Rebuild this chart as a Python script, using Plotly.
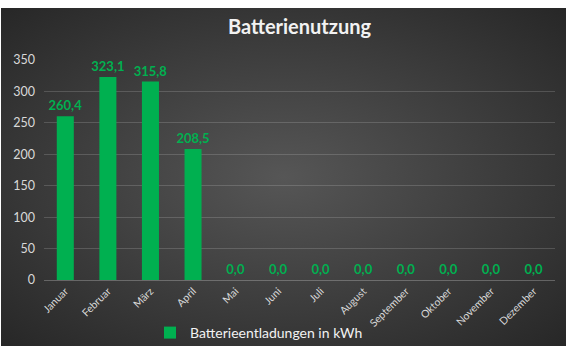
import base64
import plotly.graph_objects as go

months = ["Januar", "Februar", "März", "April", "Mai", "Juni", "Juli",
          "August", "September", "Oktober", "November", "Dezember"]
values = [260.4, 323.1, 315.8, 208.5, 0.0, 0.0, 0.0, 0.0, 0.0, 0.0, 0.0, 0.0]
series_name = "Batterieentladungen in kWh"
title_text = "Batterienutzung"
y_ticks = [0, 50, 100, 150, 200, 250, 300, 350]

labels = [f"{v:.1f}".replace(".", ",") for v in values]

GREEN = "#00B050"
FONT = "Lato"

fig = go.Figure()
fig.add_trace(go.Bar(
    x=months, y=values, name=series_name,
    marker=dict(color=GREEN, line=dict(width=0)),
    text=labels, textposition="outside", cliponaxis=False,
    constraintext="none",
    textfont=dict(family=FONT, size=13, color=GREEN, weight="bold"),
))

svg = ('<svg xmlns="http://www.w3.org/2000/svg" width="565" height="338" '
       'preserveAspectRatio="none" viewBox="0 0 565 338">'
       '<defs><radialGradient id="g" cx="50%" cy="50%" r="72%">'
       '<stop offset="0" stop-color="#565656"/>'
       '<stop offset="1" stop-color="#262626"/>'
       '</radialGradient></defs>'
       '<rect width="565" height="338" fill="url(#g)"/></svg>')
src = "data:image/svg+xml;base64," + base64.b64encode(svg.encode()).decode()

W, H = 568, 351
ml, mr, mt, mb = 44, 13, 60, 71
pw, ph = W - ml - mr, H - mt - mb
x0, x1, ytop, ybot = 1, 566, 8, 346

fig.add_layout_image(
    source=src, xref="paper", yref="paper",
    x=(x0 - ml) / pw, y=(H - mb - ytop) / ph,
    sizex=(x1 - x0) / pw, sizey=(ybot - ytop) / ph,
    xanchor="left", yanchor="top", sizing="stretch", layer="below",
)

fig.update_layout(
    width=W, height=H,
    margin=dict(l=ml, r=mr, t=mt, b=mb, autoexpand=False),
    paper_bgcolor="white", plot_bgcolor="rgba(0,0,0,0)",
    bargap=0.6,
    title=dict(text=title_text, x=0.5, xref="paper", xanchor="center",
               y=1 - 27 / H, yanchor="middle",
               font=dict(family=FONT, size=20, color="#F2F2F2", weight="bold")),
    showlegend=True,
    legend=dict(orientation="h", x=(150 - ml) / pw, xref="paper", xanchor="left",
                y=(H - mb - 333) / ph, yanchor="middle",
                font=dict(family=FONT, size=14, color="#F2F2F2"),
                bgcolor="rgba(0,0,0,0)"),
    xaxis=dict(tickangle=-45, tickfont=dict(family=FONT, size=10.5, color="#D9D9D9"),
               showgrid=False, showline=True, linecolor="rgba(217,217,217,0.3)",
               ticks="", fixedrange=True, automargin=False),
    yaxis=dict(range=[0, 350], tickvals=y_ticks,
               tickfont=dict(family=FONT, size=12.5, color="#D9D9D9"),
               showgrid=True, gridcolor="rgba(217,217,217,0.2)", gridwidth=1,
               zeroline=False, showline=False, ticks="",
               ticklabelstandoff=8, automargin=False),
)

fig.write_html("out.html")
